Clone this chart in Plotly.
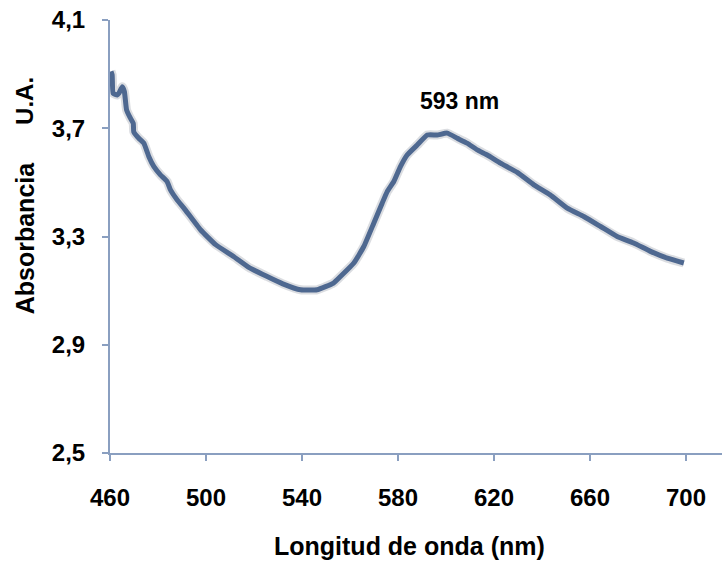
import plotly.graph_objects as go

wavelength_nm = [460.4, 460.9, 461.3, 463.0, 463.7, 465.1, 466.0, 466.9, 468.5, 469.7, 469.9,
                 472.0, 474.1, 476.2, 478.3, 481.0, 483.8, 485.2, 488.0, 490.8, 497.7,
                 504.0, 511.5, 518.0, 525.5, 532.0, 539.4, 546.3, 553.1, 556.0, 561.6,
                 565.75, 569.9, 573.4, 575.5, 578.25, 581.0, 583.8, 588.0, 592.2, 596.3,
                 600.5, 604.7, 608.8, 613.0, 617.2, 622.7, 629.7, 636.6, 643.4, 650.5,
                 657.4, 664.4, 671.3, 678.2, 685.2, 692.2, 699.1]
absorbance = [3.91, 3.897, 3.829, 3.823, 3.829, 3.853, 3.835, 3.768, 3.737, 3.718, 3.687,
              3.663, 3.645, 3.595, 3.558, 3.528, 3.503, 3.472, 3.435, 3.405, 3.325,
              3.270, 3.226, 3.185, 3.152, 3.125, 3.103, 3.103, 3.128, 3.152, 3.202,
              3.263, 3.349, 3.423, 3.466, 3.503, 3.558, 3.601, 3.638, 3.675, 3.675,
              3.682, 3.663, 3.645, 3.620, 3.601, 3.571, 3.537, 3.491, 3.454, 3.405,
              3.374, 3.337, 3.300, 3.276, 3.245, 3.220, 3.202]

x_ticks = [460, 500, 540, 580, 620, 660, 700]
y_ticks = [2.5, 2.9, 3.3, 3.7, 4.1]
peak_label = "593 nm"

FONT = "Arial, Liberation Sans, sans-serif"
LINE_COLOR = "#4e6890"
AXIS_COLOR = "#8a9fc0"

fig = go.Figure()
fig.add_trace(go.Scatter(x=wavelength_nm, y=absorbance, mode="lines",
                         line=dict(color="rgba(90,100,120,0.22)", width=9,
                                   shape="spline", smoothing=0.4),
                         hoverinfo="skip", showlegend=False))
fig.add_trace(go.Scatter(x=wavelength_nm, y=absorbance, mode="lines",
                         line=dict(color=LINE_COLOR, width=5, shape="spline", smoothing=0.4),
                         showlegend=False))

fig.update_layout(
    width=723, height=563,
    margin=dict(l=110, r=1, t=20, b=110),
    paper_bgcolor="white", plot_bgcolor="white",
    separators=",.",
    font=dict(family=FONT, color="black"),
    xaxis=dict(range=[460, 715], tickvals=x_ticks, showgrid=False, zeroline=False,
               showline=True, linecolor=AXIS_COLOR, linewidth=2,
               ticks="outside", ticklen=6, tickwidth=2, tickcolor=AXIS_COLOR,
               tickfont=dict(family=FONT, size=24, weight="bold", color="black"),
               ticklabelstandoff=16),
    yaxis=dict(range=[2.5, 4.1], tickvals=y_ticks, tickformat=".1f", showgrid=False,
               zeroline=False, showline=True, linecolor=AXIS_COLOR, linewidth=2,
               ticks="outside", ticklen=6, tickwidth=2, tickcolor=AXIS_COLOR,
               tickfont=dict(family=FONT, size=24, weight="bold", color="black"),
               ticklabelstandoff=12),
    annotations=[
        dict(text="Longitud de onda (nm)", xref="paper", yref="paper",
             x=0.49, y=-0.215, xanchor="center", yanchor="middle", showarrow=False,
             font=dict(family=FONT, size=25, weight="bold", color="black")),
        dict(text="Absorbancia", xref="paper", yref="paper", textangle=-90,
             x=-0.139, y=0.498, xanchor="center", yanchor="middle", showarrow=False,
             font=dict(family=FONT, size=25, weight="bold", color="black")),
        dict(text="U.A.", xref="paper", yref="paper", textangle=-90,
             x=-0.139, y=0.813, xanchor="center", yanchor="middle", showarrow=False,
             font=dict(family=FONT, size=24, weight="bold", color="black")),
        dict(text=peak_label, xref="x", yref="y", x=605.8, y=3.80,
             xanchor="center", yanchor="middle", showarrow=False,
             font=dict(family=FONT, size=23, weight="bold", color="black")),
    ],
)

fig.write_html("out.html")
